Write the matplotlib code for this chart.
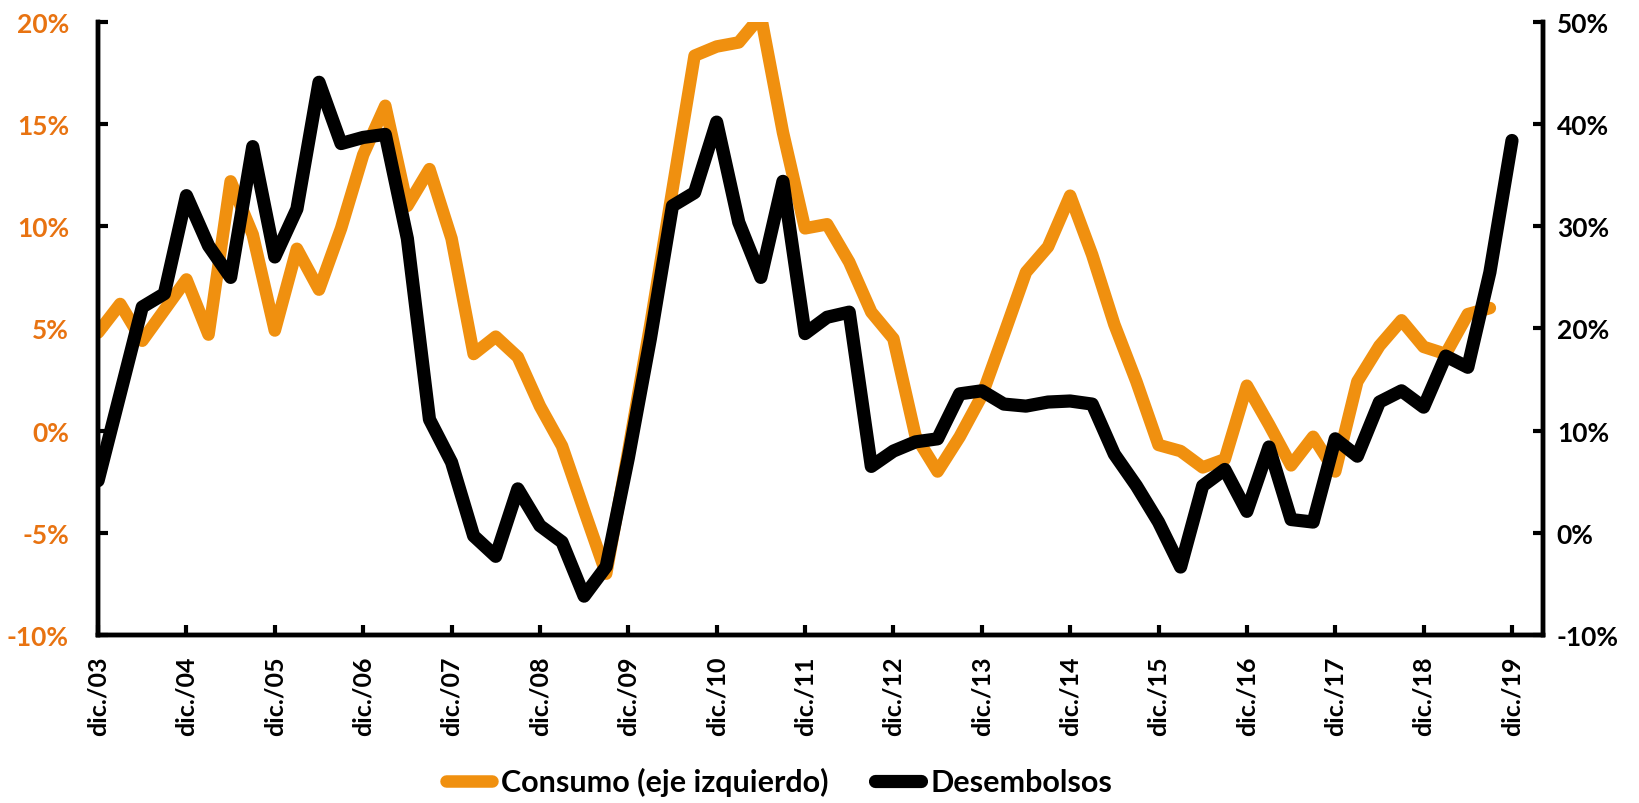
#due serie trimestrali: consumo (asse sinistro) e desembolsos (asse destro)
import numpy as np
import matplotlib.pyplot as plt

plt.rcParams['font.family'] = ['Lato', 'DejaVu Sans']
plt.rcParams['font.weight'] = 'bold'

#indice trimestrale, 0 = dic./03, 64 = dic./19
trimestri = list(range(65))

#crescita annua consumo (%), eje izquierdo
consumo = [4.8, 6.2, 4.4, 5.9, 7.4, 4.7, 12.2, 9.6, 4.9, 8.9, 6.9, 9.9, 13.5, 15.9, 11.0, 12.8,
           9.4, 3.75, 4.6, 3.6, 1.2, -0.75, -3.9, -7.0, -1.0, 5.2, 11.8, 18.35, 18.8, 19.0, 20.3, 14.6,
           9.9, 10.1, 8.25, 5.8, 4.5, -0.25, -2.0, -0.3, 1.7, 4.7, 7.75, 9.0, 11.5, 8.6, 5.2, 2.4,
           -0.7, -1.0, -1.8, -1.4, 2.2, 0.3, -1.7, -0.3, -2.0, 2.4, 4.15, 5.4, 4.1, 3.75, 5.7, 6.0,
           np.nan]

#crescita annua desembolsos (%), eje derecho
desembolsos = [5.1, 13.6, 22.1, 23.4, 33.0, 28.1, 25.0, 37.8, 27.0, 31.7, 44.1, 38.1, 38.7, 39.0, 28.8, 11.1,
               6.9, -0.3, -2.3, 4.3, 0.7, -0.9, -6.2, -3.3, 7.3, 19.0, 32.0, 33.3, 40.2, 30.4, 25.0, 34.4,
               19.5, 21.1, 21.6, 6.5, 8.0, 8.9, 9.2, 13.6, 13.9, 12.6, 12.4, 12.8, 12.9, 12.6, 7.7, 4.6,
               1.05, -3.35, 4.6, 6.2, 2.1, 8.4, 1.3, 1.05, 9.2, 7.5, 12.8, 13.9, 12.3, 17.3, 16.2, 25.5,
               38.4]

anni = ['03', '04', '05', '06', '07', '08', '09', '10', '11', '12', '13', '14', '15', '16', '17', '18', '19']
etichette = ['dic./' + a for a in anni]
pos_etichette = trimestri[::4]

tick_sx = [-10, -5, 0, 5, 10, 15, 20]
tick_dx = [-10, 0, 10, 20, 30, 40, 50]

arancio = '#F0900F'
arancio_testo = '#E87311'

fig = plt.figure(figsize=(16.4, 8.04), dpi=100, facecolor='white')
ax = fig.add_axes([0.0598, 0.209, 0.881, 0.7624])
ax2 = ax.twinx()

l1, = ax.plot(trimestri, consumo, color=arancio, linewidth=9,
              solid_joinstyle='round', solid_capstyle='round', label='Consumo (eje izquierdo)')
l2, = ax2.plot(trimestri, desembolsos, color='black', linewidth=9.5,
               solid_joinstyle='round', solid_capstyle='round', label='Desembolsos')

ax.set_xlim(0, 65.4)
ax.set_ylim(-10, 20)
ax2.set_ylim(-10, 50)

ax.set_yticks(tick_sx)
ax.set_yticklabels([str(t) + '%' for t in tick_sx], color=arancio_testo, fontsize=19, fontweight='bold')
ax2.set_yticks(tick_dx)
ax2.set_yticklabels([str(t) + '%' for t in tick_dx], color='black', fontsize=19, fontweight='bold')

ax.set_xticks(pos_etichette)
ax.set_xticklabels(etichette, rotation=90, fontsize=18, fontweight='bold')

#togliere il bordo superiore, assi spessi
for a in (ax, ax2):
    a.spines['top'].set_visible(False)
    for s in ('left', 'right', 'bottom'):
        a.spines[s].set_linewidth(3.2)
        a.spines[s].set_color('black')

ax.tick_params(axis='y', direction='in', length=7, width=3, pad=21)
ax.tick_params(axis='x', direction='in', length=7, width=3, pad=15)
ax2.tick_params(axis='y', direction='in', length=7, width=3, pad=10)

#legenda in basso
fig.legend(handles=[l1, l2], loc='lower center', bbox_to_anchor=(0.475, -0.026), ncol=2, frameon=False,
           handlelength=1.5, handletextpad=0.32, columnspacing=1.5,
           prop={'weight': 'bold', 'size': 22})

fig.savefig('out.png', dpi=100, facecolor='white')
